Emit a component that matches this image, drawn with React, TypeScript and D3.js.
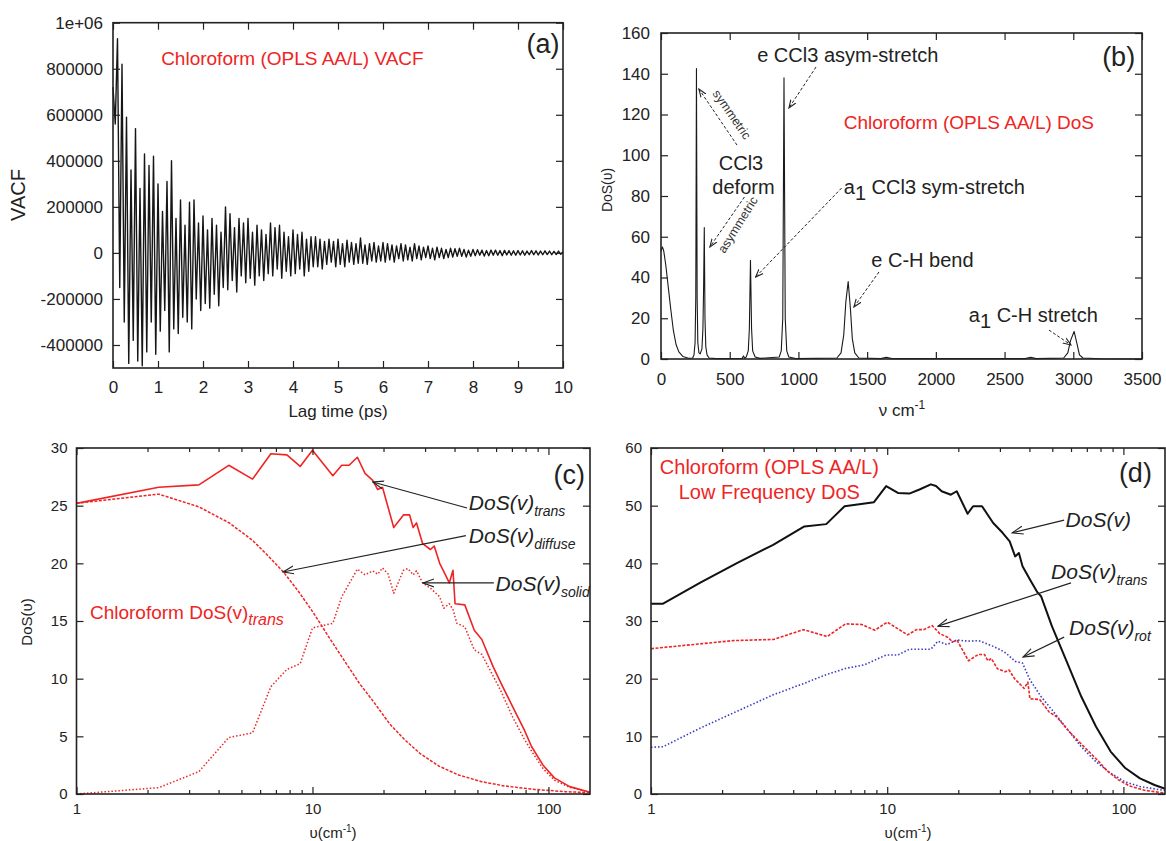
import React, { useEffect, useRef } from 'react';
import * as d3 from 'd3';

const FONT = '"Liberation Sans", Arial, Helvetica, sans-serif';
const RED = '#ef2424';
const BLUE = '#3b3bc4';
const INK = '#222';

// (a) VACF in units of 1000, one value every 0.05 ps
const vacfDt = 0.05;
const vacfK = [
  720, 560, 930, -150, 820, -300, 590, -480, 360, -380,
  540, -470, 280, -490, 430, -430, 380, -300, 420, -440,
  300, -340, 180, -250, 310, -430, 400, -330, 150, -350,
  230, -280, 120, -300, 220, -330, 230, -200, 130, -250,
  160, -220, 100, -240, 150, -180, 120, -230, 90, -150,
  200, -160, 170, -120, 110, -170, 150, -100, 130, -130,
  150, -110, 90, -140, 120, -100, 100, -120, 80, -90,
  130, -100, 110, -70, 120, -110, 90, -80, 70, -100,
  100, -90, 80, -70, 90, -100, 60, -80, 70, -60,
  70, -60, 60, -70, 50, -50, 60, -40, 50, -60,
  60, -50, 40, -60, 55, -40, 45, -50, 40, -45,
  65, -45, 35, -50, 40, -35, 45, -40, 30, -35,
  45, -40, 40, -30, 35, -40, 30, -25, 40, -35,
  35, -30, 25, -35, 40, -25, 30, -30, 25, -20,
  30, -25, 20, -30, 25, -20, 20, -25, 15, -20,
  20, -18, 18, -15, 20, -15, 15, -18, 12, -15,
  15, -12, 14, -10, 12, -14, 10, -12, 12, -10,
  12, -10, 10, -12, 11, -9, 10, -10, 9, -10,
  10, -9, 9, -10, 8, -8, 10, -8, 9, -9,
  8, -8, 9, -7, 8, -8, 7, -7, 8, -6, 5,
];
const lagTicks = [0, 1, 2, 3, 4, 5, 6, 7, 8, 9, 10];
const vacfTicks = [-400000, -200000, 0, 200000, 400000, 600000, 800000, 1000000];
const vacfTickLabels = ['-400000', '-200000', '0', '200000', '400000', '600000', '800000', '1e+06'];

// (b) full DoS spectrum
const dosNu = [0, 10, 20, 35, 50, 70, 90, 110, 130, 160, 200, 230, 240, 248, 253, 258, 263, 268, 276, 285,
  298, 305, 310, 315, 320, 326, 335, 350, 400, 590, 600, 610, 620, 635, 643, 651, 659, 667, 685, 720,
  860, 875, 886, 895, 904, 915, 930, 980, 1280, 1310, 1330, 1345, 1362, 1378, 1392, 1410, 1440, 1600, 1640, 1680,
  2650, 2690, 2730, 2930, 2960, 2980, 3006, 3025, 3045, 3070, 3200, 3500];
const dosVal = [53, 55, 53, 46, 37, 25, 14, 7, 3.5, 1.2, 0.4, 0.5, 2, 8, 30, 142.5, 30, 8, 3, 2.5,
  5, 15, 35, 64.5, 20, 6, 2, 0.5, 0.2, 0.3, 1.5, 0.3, 1, 4, 15, 48.5, 15, 4, 1, 0.3,
  1, 4, 20, 138, 20, 4, 1, 0.2, 0.5, 3, 12, 28, 38, 25, 10, 3, 0.5, 0.2, 0.8, 0.2,
  0.2, 0.8, 0.2, 0.5, 3, 9, 13.5, 8, 2, 0.5, 0.1, 0];
const nuTicks = [0, 500, 1000, 1500, 2000, 2500, 3000, 3500];
const dosTicks = [0, 20, 40, 60, 80, 100, 120, 140, 160];

// (c) translational DoS and its two parts
const transNu = [1, 2.23, 3.3, 4.42, 5.57, 6.66, 7.79, 8.87, 10, 12.2, 13.3, 14.3, 15.5, 16.7, 18, 18.9, 19.8, 22.1, 24.3, 25.8,
  26.7, 27.6, 29.3, 31.6, 32.8, 34.6, 36.6, 38, 39.4, 40.2, 44.2, 48.5, 52.2, 58.4, 63, 70.4, 78.8, 84.9, 94.9, 106, 123, 150];
const transVal = [25.2, 26.6, 26.8, 28.5, 27.3, 29.5, 29.4, 28.4, 29.8, 27.6, 28.5, 28.5, 29.2, 27.8, 27.2, 26.4, 26.6, 23.1, 24.2, 24.2,
  23.1, 23.5, 21.7, 21.2, 21.5, 20.0, 19.0, 18.3, 19.4, 16.5, 16.4, 14.2, 13.4, 11.0, 9.6, 7.6, 5.6, 4.1, 2.5, 1.4, 0.64, 0.15];
const diffuseNu = [1, 2.23, 3.3, 4.44, 5.57, 6.45, 7.5, 8.7, 10.1, 11.7, 13.6, 15.8, 18.3, 21.2, 24.6, 28.6, 34.5, 41.6, 52, 65, 87.6, 118, 150];
const diffuseVal = [25.2, 26.0, 24.9, 23.5, 22.0, 20.7, 19.3, 17.6, 15.7, 13.65, 11.6, 9.6, 7.9, 6.1, 4.7, 3.5, 2.4, 1.65, 1.07, 0.7, 0.4, 0.2, 0.12];
const solidNu = [1, 2.23, 3.3, 4.42, 5.57, 6.66, 7.79, 8.87, 10, 12.2, 13.3, 15.5, 16.7, 18, 18.9, 19.8, 20.9, 22.1, 24.3, 25.4,
  26.7, 27.6, 29.3, 31.6, 34.6, 36, 38, 39.4, 40.9, 44.2, 48.5, 52.2, 58.4, 63, 70.4, 78.8, 84.9, 94.9, 106, 123, 150];
const solidVal = [0, 0.55, 1.94, 4.9, 5.3, 9.3, 10.8, 11.3, 14.4, 14.8, 17.1, 19.5, 19.0, 19.35, 19.05, 19.6, 19.1, 17.4, 19.4, 19.55,
  19.0, 19.35, 18.3, 17.85, 17.1, 16.1, 16.5, 16.0, 14.8, 14.5, 12.5, 12.1, 10.2, 8.9, 6.7, 4.8, 3.7, 2.2, 1.2, 0.58, 0.15];

// (d) total and rotational low-frequency DoS
const totalNu = [1, 1.125, 1.61, 2.3, 3.29, 4.46, 5.52, 6.6, 8.79, 9.9, 11.1, 12.4, 13.7, 15.3, 16.1, 17, 18.6, 19.7, 21.9, 23.1,
  25.2, 28.1, 30.8, 33, 34.8, 36.1, 37.4, 40.2, 43.2, 44.8, 49.8, 57.5, 66.3, 76.5, 88.3, 101.8, 117.5, 135.5, 150];
const totalVal = [33, 33, 36.6, 40, 43.2, 46.4, 46.8, 49.9, 50.6, 53.4, 52.2, 52.1, 52.8, 53.7, 53.4, 52.5, 51.9, 52.5, 48.6, 49.9,
  49.9, 47, 45.3, 43.8, 41.2, 41.8, 39.5, 37.2, 35, 34.3, 29.1, 23, 16.9, 11.7, 7.35, 4.5, 2.7, 1.56, 0.9];
const rotNu = [1, 1.125, 1.61, 2.3, 3.29, 4.46, 5.52, 6.7, 8, 9.9, 11.1, 12.4, 15.3, 16.4, 17.9, 19.7, 21.9, 24.4, 25.8, 28.1,
  30.2, 31.9, 34.8, 37.4, 40.2, 44.8, 49.8, 57.5, 66.3, 76.5, 88.3, 101.8, 117.5, 150];
const rotVal = [8.1, 8.2, 11.4, 14.3, 17.2, 19.2, 20.7, 21.8, 22.4, 24.1, 24.1, 25.1, 25.1, 26.5, 25.9, 26.7, 26.5, 26.6, 26.2, 25.6,
  25.0, 24.4, 23.0, 22.7, 19.8, 16.9, 14.6, 11.4, 8.2, 5.6, 3.6, 2.1, 1.3, 0.6];

const logTicks = [1, 10, 100];
const logMinor = [2, 3, 4, 5, 6, 7, 8, 9, 20, 30, 40, 50, 60, 70, 80, 90];
const lowTicksC = [0, 5, 10, 15, 20, 25, 30];
const lowTicksD = [0, 10, 20, 30, 40, 50, 60];

type G = d3.Selection<SVGGElement, unknown, null, undefined>;

function frame(g: G, x: any, y: any, w: number, h: number, o: any) {
  const len = 7;
  const style = (s: any) => {
    s.select('.domain').remove();
    s.selectAll('line').attr('stroke', INK).attr('stroke-width', 1.2);
    s.selectAll('text').attr('font-family', FONT).attr('font-size', o.fs).attr('fill', INK);
  };
  g.append('g').attr('transform', `translate(0,${h})`)
    .call(d3.axisBottom(x).tickValues(o.xTicks).tickFormat(o.xFmt).tickSizeInner(-len).tickSizeOuter(0).tickPadding(o.xPad)).call(style);
  g.append('g')
    .call(d3.axisTop(x).tickValues(o.xTicks).tickFormat(() => '').tickSizeInner(-len).tickSizeOuter(0)).call(style);
  g.append('g')
    .call(d3.axisLeft(y).tickValues(o.yTicks).tickFormat(o.yFmt).tickSizeInner(-len).tickSizeOuter(0).tickPadding(o.yPad)).call(style);
  g.append('g').attr('transform', `translate(${w},0)`)
    .call(d3.axisRight(y).tickValues(o.yTicks).tickFormat(() => '').tickSizeInner(-len).tickSizeOuter(0)).call(style);
  if (o.minor) {
    g.append('g').attr('transform', `translate(0,${h})`)
      .call(d3.axisBottom(x).tickValues(o.minor).tickFormat(() => '').tickSizeInner(-4).tickSizeOuter(0)).call(style);
    g.append('g')
      .call(d3.axisTop(x).tickValues(o.minor).tickFormat(() => '').tickSizeInner(-4).tickSizeOuter(0)).call(style);
  }
  g.append('rect').attr('width', w).attr('height', h).attr('fill', 'none').attr('stroke', INK).attr('stroke-width', 1.6);
}

function curve(g: G, x: any, y: any, xs: number[], ys: number[], color: string, width: number, dash?: string) {
  const pts = d3.zip(xs, ys) as [number, number][];
  g.append('path').datum(pts)
    .attr('d', d3.line<[number, number]>().x(d => x(d[0])).y(d => y(d[1])))
    .attr('fill', 'none').attr('stroke', color).attr('stroke-width', width)
    .attr('stroke-linejoin', 'round')
    .attr('stroke-dasharray', dash || null);
}

function txt(g: any, x: number, y: number, s: string, fs: number, color = INK, anchor = 'start') {
  return g.append('text').attr('x', x).attr('y', y).attr('font-family', FONT).attr('font-size', fs)
    .attr('fill', color).attr('text-anchor', anchor).text(s);
}

function dosLabel(g: G, x: number, y: number, sub: string | null) {
  const t = g.append('text').attr('x', x).attr('y', y).attr('font-family', FONT).attr('font-size', 21)
    .attr('font-style', 'italic').attr('fill', INK);
  t.append('tspan').text('DoS(v)');
  if (sub) t.append('tspan').attr('dy', 6).attr('font-size', 14).text(sub);
}

function arrow(g: G, x1: number, y1: number, x2: number, y2: number, marker: string, dash?: string) {
  g.append('line').attr('x1', x1).attr('y1', y1).attr('x2', x2).attr('y2', y2)
    .attr('stroke', INK).attr('stroke-width', dash ? 1 : 1.2)
    .attr('stroke-dasharray', dash || null)
    .attr('marker-end', `url(#${marker})`);
}

function draw(svg: d3.Selection<SVGSVGElement, unknown, null, undefined>) {
  svg.selectAll('*').remove();
  const defs = svg.append('defs');
  [['arrOpen', 11, 4], ['arrSmall', 8, 3]].forEach(([id, l, hw]: any) => {
    defs.append('marker').attr('id', id).attr('viewBox', `0 ${-hw - 1} ${l + 1} ${2 * hw + 2}`)
      .attr('refX', l).attr('refY', 0).attr('markerUnits', 'userSpaceOnUse')
      .attr('markerWidth', l + 1).attr('markerHeight', 2 * hw + 2).attr('orient', 'auto')
      .append('path').attr('d', `M0,${-hw}L${l},0L0,${hw}`).attr('fill', 'none').attr('stroke', INK).attr('stroke-width', 1.1);
  });

  // ---------- (a) VACF ----------
  {
    const L = 113, T = 22.7, w = 450, h = 345.3;
    const g = svg.append('g').attr('transform', `translate(${L},${T})`) as unknown as G;
    const x = d3.scaleLinear().domain([0, 10]).range([0, w]);
    const y = d3.scaleLinear().domain([-500000, 1000000]).range([h, 0]);
    const ts = vacfK.map((_, i) => i * vacfDt);
    curve(g, x, y, ts, vacfK.map(v => v * 1000), '#161616', 1.4);
    frame(g, x, y, w, h, {
      xTicks: lagTicks, yTicks: vacfTicks, fs: 17, xPad: 13, yPad: 10,
      xFmt: (d: number) => String(d), yFmt: (d: number) => vacfTickLabels[vacfTicks.indexOf(d)],
    });
    txt(g, x(1.07), y(818000), 'Chloroform (OPLS AA/L) VACF', 19, RED);
    txt(g, x(9.92), y(870000), '(a)', 27, INK, 'end');
    txt(svg, 338, 417, 'Lag time (ps)', 17, INK, 'middle');
    txt(svg, 0, 0, 'VACF', 20, INK, 'middle').attr('transform', 'translate(25,195) rotate(-90)');
  }

  // ---------- (b) full DoS ----------
  {
    const L = 661, T = 33, w = 481, h = 326;
    const g = svg.append('g').attr('transform', `translate(${L},${T})`) as unknown as G;
    const x = d3.scaleLinear().domain([0, 3500]).range([0, w]);
    const y = d3.scaleLinear().domain([0, 160]).range([h, 0]);
    curve(g, x, y, dosNu, dosVal, '#1a1a1a', 1.1);
    frame(g, x, y, w, h, {
      xTicks: nuTicks, yTicks: dosTicks, fs: 17, xPad: 14, yPad: 11,
      xFmt: (d: number) => String(d), yFmt: (d: number) => String(d),
    });
    const dash = '3,2';
    txt(g, x(700), y(146), 'e CCl3 asym-stretch', 20);
    arrow(g, x(1128), y(143.3), x(931), y(123.2), 'arrSmall', dash);
    txt(g, x(1330), y(113), 'Chloroform (OPLS AA/L) DoS', 19, RED);
    txt(g, x(3450), y(144), '(b)', 27, INK, 'end');
    txt(g, x(582), y(93), 'CCl3', 20, INK, 'middle');
    txt(g, x(600), y(81), 'deform', 20, INK, 'middle');
    arrow(g, x(553), y(105), x(276), y(132.5), 'arrSmall', dash);
    txt(g, 0, 0, 'symmetric', 12.5, '#333', 'middle')
      .attr('transform', `translate(${x(490)},${y(118.8)}) rotate(55)`);
    arrow(g, x(607), y(79.5), x(356), y(55), 'arrSmall', dash);
    txt(g, 0, 0, 'asymmetric', 12.5, '#333', 'middle')
      .attr('transform', `translate(${x(585)},${y(64.8)}) rotate(-58)`);
    const a1 = g.append('text').attr('x', x(1330)).attr('y', y(81)).attr('font-family', FONT).attr('font-size', 20).attr('fill', INK);
    a1.append('tspan').text('a');
    a1.append('tspan').attr('dy', 6).text('1');
    a1.append('tspan').attr('dy', -6).text(' CCl3 sym-stretch');
    arrow(g, x(1314), y(83.9), x(688), y(40.2), 'arrSmall', dash);
    txt(g, x(1530), y(45), 'e C-H bend', 20);
    arrow(g, x(1586), y(42.7), x(1404), y(25.5), 'arrSmall', dash);
    const a2 = g.append('text').attr('x', x(2240)).attr('y', y(18)).attr('font-family', FONT).attr('font-size', 20).attr('fill', INK);
    a2.append('tspan').text('a');
    a2.append('tspan').attr('dy', 6).text('1');
    a2.append('tspan').attr('dy', -6).text(' C-H stretch');
    arrow(g, x(2823), y(14.2), x(2983), y(6.9), 'arrSmall', dash);
    txt(svg, 0, 0, 'DoS(υ)', 14, INK, 'middle').attr('transform', 'translate(612,190) rotate(-90)');
    const xl = svg.append('text').attr('x', 902).attr('y', 416).attr('font-family', FONT).attr('font-size', 17)
      .attr('fill', INK).attr('text-anchor', 'middle');
    xl.append('tspan').text('ν cm');
    xl.append('tspan').attr('dy', -7).attr('font-size', 12).text('-1');
  }

  // ---------- (c) translational DoS ----------
  {
    const L = 76.5, T = 448, w = 513.5, h = 346;
    const g = svg.append('g').attr('transform', `translate(${L},${T})`) as unknown as G;
    const x = d3.scaleLog().domain([1, 150]).range([0, w]);
    const y = d3.scaleLinear().domain([0, 30]).range([h, 0]);
    curve(g, x, y, diffuseNu, diffuseVal, RED, 1.5, '3,1.5');
    curve(g, x, y, solidNu, solidVal, RED, 1.5, '1.5,2');
    curve(g, x, y, transNu, transVal, RED, 1.6);
    frame(g, x, y, w, h, {
      xTicks: logTicks, yTicks: lowTicksC, minor: logMinor, fs: 15, xPad: 9, yPad: 9,
      xFmt: (d: number) => String(d), yFmt: (d: number) => String(d),
    });
    txt(g, x(143), y(26.9), '(c)', 27, INK, 'end');
    const rt = g.append('text').attr('x', x(1.14)).attr('y', y(15.2)).attr('font-family', FONT).attr('font-size', 19).attr('fill', RED);
    rt.append('tspan').text('Chloroform DoS(v)');
    rt.append('tspan').attr('dy', 6).attr('font-size', 16).attr('font-style', 'italic').text('trans');
    dosLabel(g, x(46), y(24.6), 'trans');
    arrow(g, x(45.2), y(24.8), x(18), y(27.05), 'arrOpen');
    dosLabel(g, x(46), y(21.8), 'diffuse');
    arrow(g, x(44.7), y(22.4), x(7.5), y(19.25), 'arrOpen');
    dosLabel(g, x(59.7), y(17.6), 'solid');
    arrow(g, x(58.7), y(18.3), x(29.4), y(18.3), 'arrOpen');
    txt(svg, 0, 0, 'DoS(υ)', 15, INK, 'middle').attr('transform', 'translate(32,622) rotate(-90)');
    const xl = svg.append('text').attr('x', 333).attr('y', 838).attr('font-family', FONT).attr('font-size', 15)
      .attr('fill', INK).attr('text-anchor', 'middle');
    xl.append('tspan').text('υ(cm');
    xl.append('tspan').attr('dy', -6).attr('font-size', 10).text('-1');
    xl.append('tspan').attr('dy', 6).text(')');
  }

  // ---------- (d) low frequency DoS ----------
  {
    const L = 651, T = 448, w = 514, h = 346;
    const g = svg.append('g').attr('transform', `translate(${L},${T})`) as unknown as G;
    const x = d3.scaleLog().domain([1, 150]).range([0, w]);
    const y = d3.scaleLinear().domain([0, 60]).range([h, 0]);
    curve(g, x, y, rotNu, rotVal, BLUE, 1.6, '1.5,2');
    curve(g, x, y, transNu, transVal, RED, 1.6, '3,1.5');
    curve(g, x, y, totalNu, totalVal, '#111', 2);
    frame(g, x, y, w, h, {
      xTicks: logTicks, yTicks: lowTicksD, minor: logMinor, fs: 15, xPad: 9, yPad: 9,
      xFmt: (d: number) => String(d), yFmt: (d: number) => String(d),
    });
    txt(g, x(132), y(54.1), '(d)', 27, INK, 'end');
    txt(g, x(3.17), y(55.5), 'Chloroform (OPLS AA/L)', 20, RED, 'middle');
    txt(g, x(3.17), y(51.2), 'Low Frequency DoS', 20, RED, 'middle');
    dosLabel(g, x(56.9), y(46.3), null);
    arrow(g, x(56.1), y(47.5), x(33.8), y(45.3), 'arrOpen');
    dosLabel(g, x(49.4), y(37.3), 'trans');
    arrow(g, x(60), y(36.6), x(16.4), y(29.1), 'arrOpen');
    dosLabel(g, x(58.9), y(27.6), 'rot');
    arrow(g, x(56.1), y(27.2), x(37.6), y(23.75), 'arrOpen');
    const xl = svg.append('text').attr('x', 908).attr('y', 838).attr('font-family', FONT).attr('font-size', 15)
      .attr('fill', INK).attr('text-anchor', 'middle');
    xl.append('tspan').text('υ(cm');
    xl.append('tspan').attr('dy', -6).attr('font-size', 10).text('-1');
    xl.append('tspan').attr('dy', 6).text(')');
  }
}

export default function App() {
  const ref = useRef<SVGSVGElement>(null);
  useEffect(() => {
    if (ref.current) draw(d3.select(ref.current));
  }, []);
  return (
    <svg ref={ref} width={1166} height={841}
      style={{ position: 'absolute', left: 0, top: 0, background: '#fff' }} />
  );
}
